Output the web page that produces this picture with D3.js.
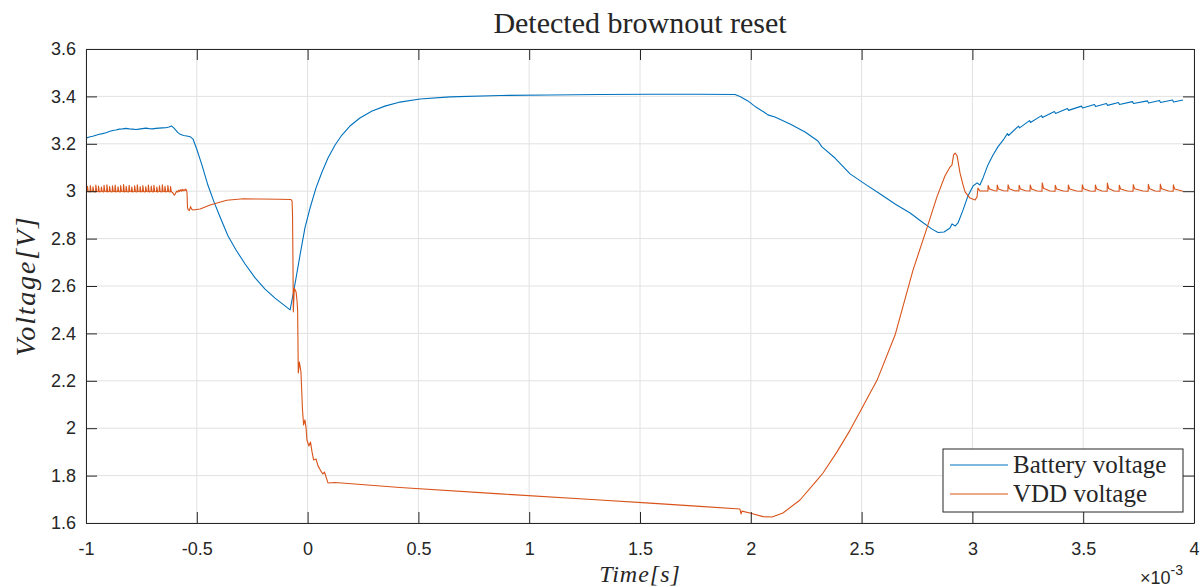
<!DOCTYPE html>
<html>
<head>
<meta charset="utf-8">
<style>
  body { margin: 0; background: #fff; }
  svg text { fill: #262626; }
</style>
</head>
<body>
<div id="chart"></div>
<script src="https://d3js.org/d3.v7.min.js"></script>
<script>
  // time in units of 1e-3 s, voltage in V
  const xTicks = [-1, -0.5, 0, 0.5, 1, 1.5, 2, 2.5, 3, 3.5, 4];
  const xTickLabels = ["-1", "-0.5", "0", "0.5", "1", "1.5", "2", "2.5", "3", "3.5", "4"];
  const yTicks = [1.6, 1.8, 2, 2.2, 2.4, 2.6, 2.8, 3, 3.2, 3.4, 3.6];
  const yTickLabels = ["1.6", "1.8", "2", "2.2", "2.4", "2.6", "2.8", "3", "3.2", "3.4", "3.6"];
  const seriesNames = ["Battery voltage", "VDD voltage"];

  const batteryVoltage = [
    [-1.000, 3.224], [-0.985, 3.229], [-0.970, 3.232], [-0.955, 3.236], [-0.940, 3.240],
    [-0.925, 3.243], [-0.910, 3.247], [-0.895, 3.252], [-0.880, 3.256], [-0.865, 3.258],
    [-0.850, 3.262], [-0.835, 3.263], [-0.820, 3.265], [-0.805, 3.263], [-0.790, 3.262],
    [-0.775, 3.260], [-0.760, 3.262], [-0.745, 3.264], [-0.730, 3.266], [-0.715, 3.264],
    [-0.700, 3.263], [-0.685, 3.265], [-0.670, 3.266], [-0.655, 3.267], [-0.640, 3.268],
    [-0.625, 3.271], [-0.615, 3.275], [-0.605, 3.268], [-0.595, 3.258], [-0.585, 3.247],
    [-0.575, 3.240], [-0.560, 3.235], [-0.545, 3.233], [-0.530, 3.230], [-0.517, 3.220],
    [-0.499, 3.174], [-0.477, 3.111], [-0.450, 3.026], [-0.422, 2.954], [-0.395, 2.891],
    [-0.359, 2.811], [-0.323, 2.752], [-0.282, 2.693], [-0.237, 2.634], [-0.192, 2.587],
    [-0.147, 2.549], [-0.102, 2.516], [-0.079, 2.499], [-0.066, 2.562], [-0.052, 2.634],
    [-0.034, 2.731], [-0.012, 2.845], [0.011, 2.929], [0.038, 3.014], [0.065, 3.081],
    [0.092, 3.140], [0.124, 3.195], [0.155, 3.237], [0.191, 3.275], [0.236, 3.309],
    [0.291, 3.338], [0.349, 3.359], [0.417, 3.376], [0.507, 3.389], [0.643, 3.398],
    [0.868, 3.404], [1.094, 3.406], [1.319, 3.408], [1.545, 3.409], [1.771, 3.409],
    [1.929, 3.408], [1.951, 3.400], [1.987, 3.381], [2.023, 3.355], [2.059, 3.334],
    [2.077, 3.322], [2.109, 3.313], [2.177, 3.284], [2.245, 3.250], [2.303, 3.212],
    [2.321, 3.187], [2.380, 3.140], [2.448, 3.073], [2.516, 3.030], [2.584, 2.988],
    [2.651, 2.946], [2.719, 2.908], [2.773, 2.870], [2.818, 2.840], [2.845, 2.826],
    [2.872, 2.828], [2.899, 2.845], [2.908, 2.862], [2.922, 2.853], [2.935, 2.866],
    [2.958, 2.921], [2.980, 2.980], [3.003, 3.022], [3.021, 3.035], [3.034, 3.026],
    [3.048, 3.056], [3.070, 3.111], [3.093, 3.153], [3.115, 3.187], [3.142, 3.220],
    [3.158, 3.243], [3.163, 3.235], [3.208, 3.275], [3.213, 3.267], [3.258, 3.298],
    [3.262, 3.290], [3.312, 3.319], [3.316, 3.311], [3.370, 3.336], [3.375, 3.328],
    [3.429, 3.349], [3.434, 3.341], [3.492, 3.359], [3.497, 3.351], [3.551, 3.366],
    [3.556, 3.357], [3.605, 3.370], [3.610, 3.362], [3.659, 3.374], [3.664, 3.366],
    [3.722, 3.378], [3.727, 3.370], [3.790, 3.381], [3.795, 3.372], [3.844, 3.383],
    [3.849, 3.374], [3.903, 3.385], [3.908, 3.376], [3.950, 3.385]
  ];

  const vddVoltage = [
    [-1.000, 2.999], [-0.995, 2.998], [-0.9935, 3.021], [-0.990, 2.999],
    [-0.982, 2.997], [-0.9805, 3.024], [-0.977, 2.998], [-0.970, 2.999], [-0.9685, 3.019], [-0.965, 2.998],
    [-0.957, 2.997], [-0.9555, 3.026], [-0.952, 2.999], [-0.945, 2.998], [-0.9435, 3.022], [-0.940, 2.997],
    [-0.932, 2.999], [-0.9305, 3.018], [-0.927, 2.998], [-0.920, 2.997], [-0.9185, 3.025], [-0.915, 2.999],
    [-0.907, 2.998], [-0.9055, 3.027], [-0.902, 2.997], [-0.895, 2.999], [-0.8935, 3.020], [-0.890, 2.998],
    [-0.882, 2.997], [-0.8805, 3.023], [-0.877, 2.999], [-0.870, 2.998], [-0.8685, 3.026], [-0.865, 2.997],
    [-0.857, 2.999], [-0.8555, 3.019], [-0.852, 2.998], [-0.845, 2.997], [-0.8435, 3.024], [-0.840, 2.999],
    [-0.832, 2.998], [-0.8305, 3.028], [-0.827, 2.997], [-0.820, 2.999], [-0.8185, 3.021], [-0.815, 2.998],
    [-0.807, 2.997], [-0.8055, 3.025], [-0.802, 2.999], [-0.795, 2.998], [-0.7935, 3.018], [-0.790, 2.997],
    [-0.782, 2.999], [-0.7805, 3.023], [-0.777, 2.998], [-0.770, 2.997], [-0.7685, 3.027], [-0.765, 2.999],
    [-0.757, 2.998], [-0.7555, 3.020], [-0.752, 2.997], [-0.745, 2.999], [-0.7435, 3.024], [-0.740, 2.998],
    [-0.732, 2.997], [-0.7305, 3.019], [-0.727, 2.999], [-0.720, 2.998], [-0.7185, 3.026], [-0.715, 2.997],
    [-0.707, 2.999], [-0.7055, 3.022], [-0.702, 2.998], [-0.695, 2.997], [-0.6935, 3.025], [-0.690, 2.999],
    [-0.682, 2.998], [-0.6805, 3.018], [-0.677, 2.997], [-0.670, 2.999], [-0.6685, 3.023], [-0.665, 2.998],
    [-0.657, 2.997], [-0.6555, 3.027], [-0.652, 2.999], [-0.645, 2.998], [-0.6435, 3.021], [-0.640, 2.997],
    [-0.632, 2.999], [-0.6305, 3.024], [-0.627, 2.998], [-0.620, 2.997], [-0.6185, 3.020], [-0.615, 2.998],
    [-0.610, 2.995], [-0.606, 2.990], [-0.602, 2.983], [-0.598, 2.987], [-0.594, 2.995], [-0.590, 3.001],
    [-0.586, 2.996], [-0.582, 3.004], [-0.578, 2.999], [-0.574, 3.006], [-0.570, 3.000], [-0.566, 3.008],
    [-0.562, 3.001], [-0.558, 3.007], [-0.554, 3.002], [-0.550, 3.009], [-0.546, 3.003], [-0.544, 2.990],
    [-0.542, 2.930], [-0.538, 2.921], [-0.534, 2.918], [-0.528, 2.935], [-0.524, 2.925], [-0.518, 2.921],
    [-0.485, 2.925], [-0.440, 2.942], [-0.365, 2.962], [-0.290, 2.968], [-0.215, 2.967], [-0.130, 2.966],
    [-0.075, 2.965], [-0.070, 2.958], [-0.068, 2.900], [-0.066, 2.700], [-0.0645, 2.491], [-0.060, 2.590],
    [-0.052, 2.575], [-0.048, 2.541], [-0.045, 2.499], [-0.042, 2.233], [-0.037, 2.279], [-0.030, 2.237],
    [-0.023, 2.077], [-0.018, 2.014], [-0.012, 2.035], [-0.007, 2.001], [-0.003, 1.950], [0.006, 1.925],
    [0.013, 1.942], [0.020, 1.900], [0.027, 1.866], [0.038, 1.870], [0.047, 1.841], [0.060, 1.819],
    [0.069, 1.807], [0.076, 1.815], [0.092, 1.769], [0.124, 1.771], [0.417, 1.750], [0.868, 1.723],
    [1.319, 1.697], [1.545, 1.684], [1.771, 1.670], [1.951, 1.659], [1.956, 1.638], [1.960, 1.650],
    [1.996, 1.642], [2.055, 1.627], [2.096, 1.625], [2.145, 1.642], [2.222, 1.697], [2.299, 1.781],
    [2.326, 1.811], [2.389, 1.900], [2.448, 1.992], [2.502, 2.085], [2.570, 2.203], [2.651, 2.393],
    [2.732, 2.667], [2.795, 2.845], [2.840, 2.976], [2.876, 3.064], [2.899, 3.102], [2.908, 3.111],
    [2.915, 3.153], [2.922, 3.161], [2.931, 3.149], [2.944, 3.077], [2.958, 3.026], [2.967, 2.997],
    [2.989, 2.971], [3.012, 2.963], [3.021, 2.976], [3.025, 3.013], [3.034, 3.001],
    [3.070, 3.001], [3.071, 3.024], [3.077, 3.009], [3.100, 3.002],
    [3.111, 3.001], [3.112, 3.026], [3.118, 3.009], [3.140, 3.002],
    [3.160, 3.001], [3.161, 3.027], [3.167, 3.010], [3.190, 3.002],
    [3.210, 3.001], [3.211, 3.025], [3.217, 3.009], [3.240, 3.002],
    [3.260, 3.001], [3.261, 3.026], [3.267, 3.009], [3.292, 3.001],
    [3.314, 3.000], [3.315, 3.035], [3.321, 3.012], [3.350, 3.001],
    [3.373, 3.000], [3.374, 3.025], [3.380, 3.009], [3.410, 3.001],
    [3.432, 3.000], [3.433, 3.026], [3.439, 3.009], [3.470, 3.001],
    [3.495, 3.000], [3.496, 3.027], [3.502, 3.010], [3.530, 3.001],
    [3.554, 3.000], [3.555, 3.026], [3.561, 3.009], [3.585, 3.001],
    [3.608, 3.000], [3.609, 3.034], [3.615, 3.011], [3.640, 3.001],
    [3.662, 3.000], [3.663, 3.025], [3.669, 3.009], [3.700, 3.001],
    [3.725, 3.000], [3.726, 3.028], [3.732, 3.010], [3.770, 3.001],
    [3.793, 3.000], [3.794, 3.029], [3.800, 3.010], [3.825, 3.001],
    [3.847, 3.000], [3.848, 3.030], [3.854, 3.010], [3.885, 3.001],
    [3.906, 3.000], [3.907, 3.027], [3.913, 3.009], [3.950, 3.000]
  ];

  const colors = ["#0072BD", "#D95319"];

  const width = 1201, height = 587;
  const plot = { left: 86, right: 1194, top: 49, bottom: 523 };

  const svg = d3.select("#chart").append("svg")
    .attr("width", width)
    .attr("height", height);

  const x = d3.scaleLinear().domain([-1, 4]).range([plot.left, plot.right]);
  const y = d3.scaleLinear().domain([1.6, 3.6]).range([plot.bottom, plot.top]);

  // grid
  const grid = svg.append("g").attr("stroke", "#e2e2e2").attr("stroke-width", 1);
  grid.selectAll(".gx").data(xTicks).join("line")
    .attr("x1", d => x(d)).attr("x2", d => x(d))
    .attr("y1", plot.top).attr("y2", plot.bottom);
  grid.selectAll(".gy").data(yTicks).join("line")
    .attr("x1", plot.left).attr("x2", plot.right)
    .attr("y1", d => y(d)).attr("y2", d => y(d));

  // data lines
  const line = d3.line().x(d => x(d[0])).y(d => y(d[1]));
  [batteryVoltage, vddVoltage].forEach((s, i) => {
    svg.append("path")
      .datum(s)
      .attr("fill", "none")
      .attr("stroke", colors[i])
      .attr("stroke-width", 1.1)
      .attr("stroke-linejoin", "round")
      .attr("d", line);
  });

  // axes (ticks pointing inward, mirrored on top and right)
  const tickFont = "'Liberation Sans', Arial, sans-serif";
  const styleAxis = g => {
    g.attr("color", "#262626");
    g.select(".domain").attr("stroke-width", 1);
    g.selectAll("text").style("font-family", tickFont).style("font-size", "18px").attr("fill", "#262626");
  };

  svg.append("g")
    .attr("transform", `translate(0,${plot.bottom})`)
    .call(d3.axisBottom(x).tickValues(xTicks).tickFormat((d, i) => xTickLabels[i])
      .tickSizeInner(-11).tickSizeOuter(0).tickPadding(19))
    .call(styleAxis);
  svg.append("g")
    .attr("transform", `translate(0,${plot.top})`)
    .call(d3.axisTop(x).tickValues(xTicks).tickFormat("")
      .tickSizeInner(-11).tickSizeOuter(0))
    .call(styleAxis);
  svg.append("g")
    .attr("transform", `translate(${plot.left},0)`)
    .call(d3.axisLeft(y).tickValues(yTicks).tickFormat((d, i) => yTickLabels[i])
      .tickSizeInner(-11).tickSizeOuter(0).tickPadding(10))
    .call(styleAxis);
  svg.append("g")
    .attr("transform", `translate(${plot.right},0)`)
    .call(d3.axisRight(y).tickValues(yTicks).tickFormat("")
      .tickSizeInner(-11).tickSizeOuter(0))
    .call(styleAxis);

  // exponent label
  const expo = svg.append("text")
    .attr("x", 1140).attr("y", 584)
    .style("font-family", tickFont).style("font-size", "18px");
  expo.append("tspan").text("\u00d710");
  expo.append("tspan").attr("dy", -9).style("font-size", "14px").text("-3");

  // title and axis labels
  const serif = "'Liberation Serif', 'Times New Roman', serif";
  svg.append("text")
    .attr("x", (plot.left + plot.right) / 2).attr("y", 33)
    .attr("text-anchor", "middle")
    .style("font-family", serif).style("font-size", "30px")
    .text("Detected brownout reset");

  svg.append("text")
    .attr("x", (plot.left + plot.right) / 2).attr("y", 582)
    .attr("text-anchor", "middle")
    .style("font-family", serif).style("font-style", "italic").style("font-size", "24px")
    .style("letter-spacing", "1px")
    .text("Time[s]");

  svg.append("text")
    .attr("transform", `translate(35,${(plot.top + plot.bottom) / 2}) rotate(-90)`)
    .attr("text-anchor", "middle")
    .style("font-family", serif).style("font-style", "italic").style("font-size", "28px")
    .style("letter-spacing", "1.8px")
    .text("Voltage[V]");

  // legend
  const legend = svg.append("g").attr("transform", "translate(943,449)");
  legend.append("rect")
    .attr("width", 240).attr("height", 63)
    .attr("fill", "#fff").attr("stroke", "#262626").attr("stroke-width", 1);
  seriesNames.forEach((name, i) => {
    const yy = 16 + i * 29;
    legend.append("line")
      .attr("x1", 7).attr("x2", 65).attr("y1", yy).attr("y2", yy)
      .attr("stroke", colors[i]).attr("stroke-width", 1.1);
    legend.append("text")
      .attr("x", 70).attr("y", yy + 8)
      .style("font-family", serif).style("font-size", "25px")
      .text(name);
  });
</script>
</body>
</html>
